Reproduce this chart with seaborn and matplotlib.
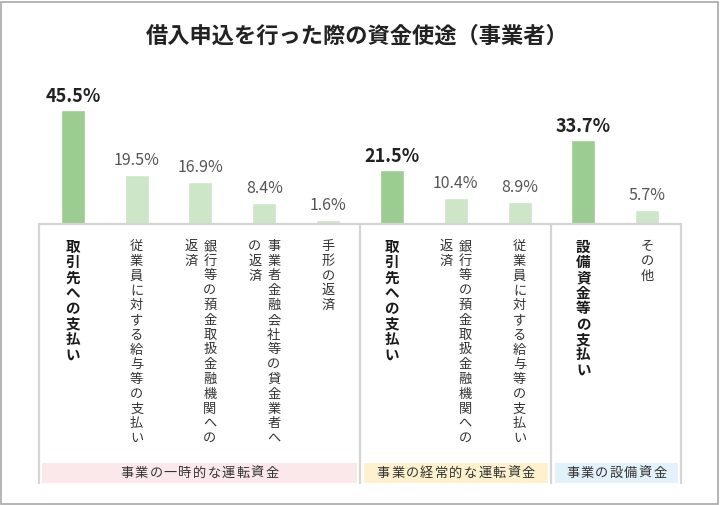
import matplotlib
matplotlib.use("Agg")
import matplotlib.pyplot as plt
import seaborn as sns
import pandas as pd
import numpy as np
from matplotlib.transforms import blended_transform_factory
from matplotlib.patches import Rectangle

# ---------------- data ----------------
title = "借入申込を行った際の資金使途（事業者）"
label_columns = [
    ["取引先への支払い"],
    ["従業員に対する給与等の支払い"],
    ["銀行等の預金取扱金融機関への", "返済"],
    ["事業者金融会社等の貸金業者へ", "の返済"],
    ["手形の返済"],
    ["取引先への支払い"],
    ["銀行等の預金取扱金融機関への", "返済"],
    ["従業員に対する給与等の支払い"],
    ["設備資金等の支払い"],
    ["その他"],
]
values = [45.5, 19.5, 16.9, 8.4, 1.6, 21.5, 10.4, 8.9, 33.7, 5.7]
highlight = [True, False, False, False, False, True, False, False, True, False]
group_names = ["事業の一時的な運転資金", "事業の経常的な運転資金", "事業の設備資金"]
group_sizes = [5, 3, 2]

# ---------------- style ----------------
sns.set_theme(style="white")
plt.rcParams['font.family'] = ['Noto Sans CJK JP', 'DejaVu Sans']

W, H = 720, 505
fig = plt.figure(figsize=(W / 100, H / 100), dpi=100)
fig.patch.set_facecolor("white")


def fy(py):
    return 1 - py / H


base_px, top_px, px_per_pct = 224, 80, 2.5
left_px, right_px = 39, 681
n = len(values)
ax = fig.add_axes([left_px / W, fy(base_px), (right_px - left_px) / W, (base_px - top_px) / H])

df = pd.DataFrame({
    "pos": [str(i) for i in range(n)],
    "value": values,
    "kind": ["main" if h else "sub" for h in highlight],
})
sns.barplot(data=df, x="pos", y="value", hue="kind", order=df["pos"].tolist(),
            palette={"main": "#9ACD8F", "sub": "#CDE6C7"}, width=0.375,
            dodge=False, legend=False, saturation=1, ax=ax)
ax.set_xlim(-0.53, n - 1 + 0.53)
ax.set_ylim(0, (base_px - top_px) / px_per_pct)
ax.axis("off")

unit_px = (right_px - left_px) / (ax.get_xlim()[1] - ax.get_xlim()[0])
trans = blended_transform_factory(ax.transData, fig.transFigure)

# value labels
for i, (v, h) in enumerate(zip(values, highlight)):
    if h:
        ax.annotate(f"{v}%", (i, v), xytext=(0, 8 * 0.72), textcoords="offset points",
                    ha="center", va="baseline", fontsize=13, fontweight="bold",
                    color="#222222")
    else:
        ax.annotate(f"{v}%", (i, v), xytext=(0, 10 * 0.72), textcoords="offset points",
                    ha="center", va="baseline", fontsize=11.5, color="#555555")

# group boxes
line_c = "#D4D4D4"
xl = ax.get_xlim()
bounds = [xl[0]]
acc = 0
for s in group_sizes[:-1]:
    acc += s
    bounds.append(acc - 0.5)
bounds.append(xl[1])
box_bottom = 483
ax.plot([xl[0], xl[1]], [fy(base_px), fy(base_px)], color=line_c, lw=1.6,
        transform=trans, clip_on=False)
for b in bounds:
    ax.plot([b, b], [fy(base_px), fy(box_bottom)], color=line_c, lw=1.6,
            transform=trans, clip_on=False)

band_colors = ["#FBE8EB", "#FDF2CD", "#E2F1FA"]
pad = 3.5 / unit_px
for g, name in enumerate(group_names):
    x0, x1 = bounds[g] + pad, bounds[g + 1] - pad
    ax.add_patch(Rectangle((x0, fy(box_bottom)), x1 - x0, 20 / H, transform=trans,
                           facecolor=band_colors[g], edgecolor="none", clip_on=False))
    cx = (x0 + x1) / 2
    step = 14.5 / unit_px
    m = len(name)
    for k, ch in enumerate(name):
        ax.text(cx + (k - (m - 1) / 2) * step, fy(473), ch, transform=trans,
                ha="center", va="center", fontsize=9.5, color="#333333")

# vertical category labels
label_top = 239
for i, cols in enumerate(label_columns):
    bold = highlight[i]
    fs = 10.5 if bold else 9.5
    step = 15.4 if bold else 14.8
    ncol = len(cols)
    for j, col in enumerate(cols):
        cx = i + ((ncol - 1) / 2 - j) * 19 / unit_px
        for k, ch in enumerate(col):
            ax.text(cx, fy(label_top + step * (k + 0.5)), ch, transform=trans,
                    ha="center", va="center", fontsize=fs,
                    fontweight="bold" if bold else "normal",
                    color="#1a1a1a" if bold else "#333333")

# title
fig.text(357 / W, fy(36), title, ha="center", va="center", fontsize=16,
         fontweight="bold", color="#222222")

# outer frame
fig.patches.append(Rectangle((0.7 / W, 1.5 / H), 717.5 / W, 501.5 / H, transform=fig.transFigure,
                             fill=False, edgecolor="#A8A8A8", lw=1.2))

fig.savefig("out.png", dpi=100)
